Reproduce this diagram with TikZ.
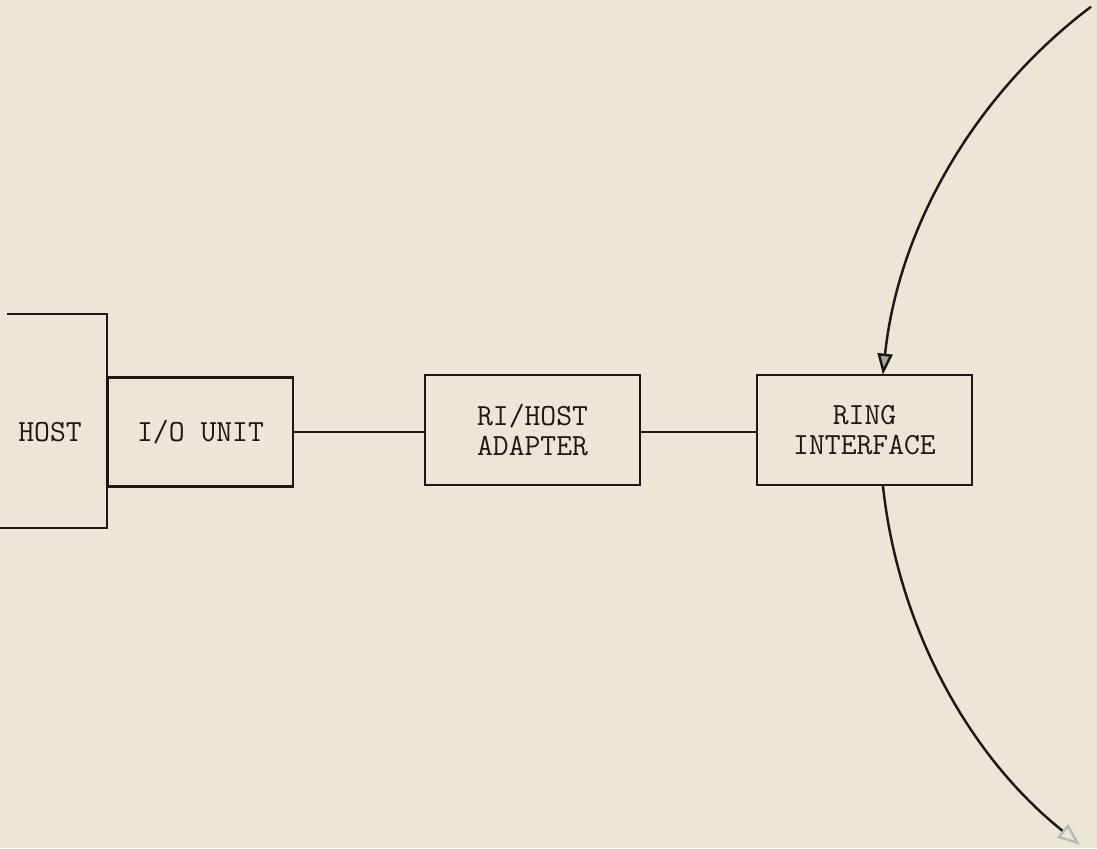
\documentclass[tikz,border=0pt]{standalone}
\usepackage{fontspec}
\usetikzlibrary{arrows.meta}
\definecolor{paper}{HTML}{ECE6D6}
\definecolor{ink}{HTML}{1E1714}
\tikzset{
  unitbox/.style={draw=ink, line width=1.4pt, minimum width=4.3cm, minimum height=2.2cm,
                  align=center, text=ink, font=\ttfamily\fontsize{17.5}{17}\selectfont},
  wire/.style={draw=ink, line width=1.4pt},
}
\begin{document}
\begin{tikzpicture}
            % paper
            \fill[paper] (0,0) rectangle (21.94,16.96);
            \useasboundingbox (0,0) rectangle (21.94,16.96);

            % host (open on the left)
            \node[unitbox, draw=none, minimum width=2cm] (host) at (1.0,8.32) {HOST};
            \draw[wire] (0.14,10.68) -- (2.14,10.68) -- (2.14,6.4) -- (0,6.4);

            % units
            \node[unitbox, minimum width=3.7cm, minimum height=2.18cm] (io) at (4.01,8.32) {I/O UNIT};
            \node[unitbox] (adapter) at (10.65,8.36) {RI/HOST\\ADAPTER};
            \node[unitbox] (ring) at (17.29,8.36) {RING\\INTERFACE};

            % links
            \draw[wire] (io.east) -- (io.east -| adapter.west);
            \draw[wire] (adapter.east |- io.east) -- (ring.west |- io.east);

            % ring
            \coordinate (ringc) at (28.2,8.36);
            \coordinate (ringin) at ([shift={(127:10.6)}]ringc);
            \coordinate (ringout) at ([shift={(186:10.6)}]ringc);
            \draw[wire, -{Triangle[length=0.42cm, width=0.3cm, fill=gray!70]}]
                (ringin) arc[start angle=127, end angle=174, radius=10.6];
            \draw[wire, -{Triangle[open, length=0.45cm, width=0.34cm, color=gray!55]}]
                (ringout) arc[start angle=186, end angle=231.5, radius=10.6];
          \end{tikzpicture}
\end{document}
